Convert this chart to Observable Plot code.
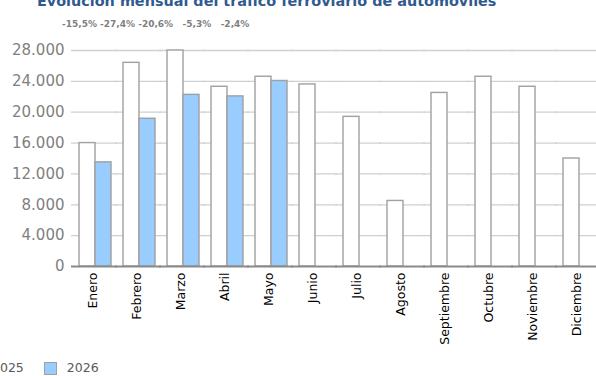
<!DOCTYPE html>
<html>
<head>
<meta charset="utf-8">
<script src="https://cdn.jsdelivr.net/npm/d3@7"></script>
<script src="https://cdn.jsdelivr.net/npm/@observablehq/plot@0.6"></script>
<style>
  html, body { margin: 0; padding: 0; background: #fff; }
  #wrap { position: relative; width: 596px; height: 376px; overflow: hidden; background: #fff; font-family: "DejaVu Sans", sans-serif; }
  #title { position: absolute; left: 37px; top: -6.5px; font-weight: bold; font-size: 14.4px; line-height: 1; color: #2f5a8f; white-space: nowrap; }
  #pct { position: absolute; left: 62px; top: 19.5px; font-weight: bold; font-size: 9px; line-height: 1; color: #7f7f7f; white-space: pre; }
  #chart svg { position: absolute; left: 0; top: 0; max-width: none !important; }
  #legend { position: absolute; left: -31px; top: 362px; display: flex; align-items: center; font-size: 12.5px; line-height: 1; color: #595959; }
  #legend .item { display: flex; align-items: center; margin-right: 20px; }
  #legend .sw { width: 13px; height: 13px; box-sizing: border-box; border: 1px solid #a0a0a0; margin-right: 10px; }
</style>
</head>
<body>
<div id="wrap">
  <div id="chart"></div>
  <div id="title"></div>
  <div id="pct"></div>
  <div id="legend"></div>
</div>
<script>
const titleText = "Evolución mensual del tráfico ferroviario de automóviles";
const months = ["Enero", "Febrero", "Marzo", "Abril", "Mayo", "Junio", "Julio", "Agosto", "Septiembre", "Octubre", "Noviembre", "Diciembre"];
const years = ["2025", "2026"];
const values2025 = [16000, 26400, 28000, 23300, 24600, 23600, 19400, 8500, 22500, 24600, 23300, 14000];
const values2026 = [13500, 19150, 22250, 22050, 24050, null, null, null, null, null, null, null];
const yTicks = [0, 4000, 8000, 12000, 16000, 20000, 24000, 28000];
const pctLabels = ["-15,5%", "-27,4%", "-20,6%", "-5,3%", "-2,4%"];
const pctGaps = [" ", " ", "   ", "   "];
const yearColors = ["#ffffff", "#99ccff"];

const data = months.flatMap((m, i) => [
  {month: m, year: years[0], value: values2025[i]},
  {month: m, year: years[1], value: values2026[i]}
]).filter(d => d.value != null);

const fmt = d => d3.format(",")(d).replace(/,/g, ".");

const plot = Plot.plot({
  width: 605,
  height: 376,
  marginLeft: 69,
  marginRight: 0,
  marginTop: 50,
  marginBottom: 110,
  style: {fontFamily: "DejaVu Sans", background: "transparent", maxWidth: "none"},
  fx: {domain: months, padding: 0, label: null},
  x: {domain: years, paddingInner: 0, paddingOuter: 0.375, axis: null},
  y: {domain: [0, 28000], axis: null},
  color: {domain: years, range: yearColors},
  marks: [
    Plot.ruleY(yTicks.slice(1), {stroke: "#d0d0d0", strokeWidth: 1.3, insetLeft: -2}),
    Plot.barY(data, {fx: "month", x: "year", y: "value", fill: "year", stroke: "#a0a0a0", strokeWidth: 1.4}),
    Plot.ruleY([0], {stroke: "#8a8a8a", strokeWidth: 1.8, insetLeft: -2}),
    Plot.axisY({ticks: yTicks, tickSize: 0, tickPadding: 9, tickFormat: fmt, fontSize: 15, fill: "#7f7f7f", label: null}),
    Plot.axisFx({anchor: "bottom", tickRotate: -90, tickSize: 0, tickPadding: 6, label: null, fontSize: 12.5, fill: "#000", dx: -3})
  ]
});
document.getElementById("chart").appendChild(plot);

document.getElementById("title").textContent = titleText;
document.getElementById("pct").textContent = pctLabels.map((p, i) => p + (pctGaps[i] || "")).join("");

const legend = document.getElementById("legend");
years.forEach((y, i) => {
  const item = document.createElement("div");
  item.className = "item";
  const sw = document.createElement("div");
  sw.className = "sw";
  sw.style.background = yearColors[i];
  const t = document.createElement("span");
  t.textContent = y;
  item.appendChild(sw);
  item.appendChild(t);
  legend.appendChild(item);
});
</script>
</body>
</html>
